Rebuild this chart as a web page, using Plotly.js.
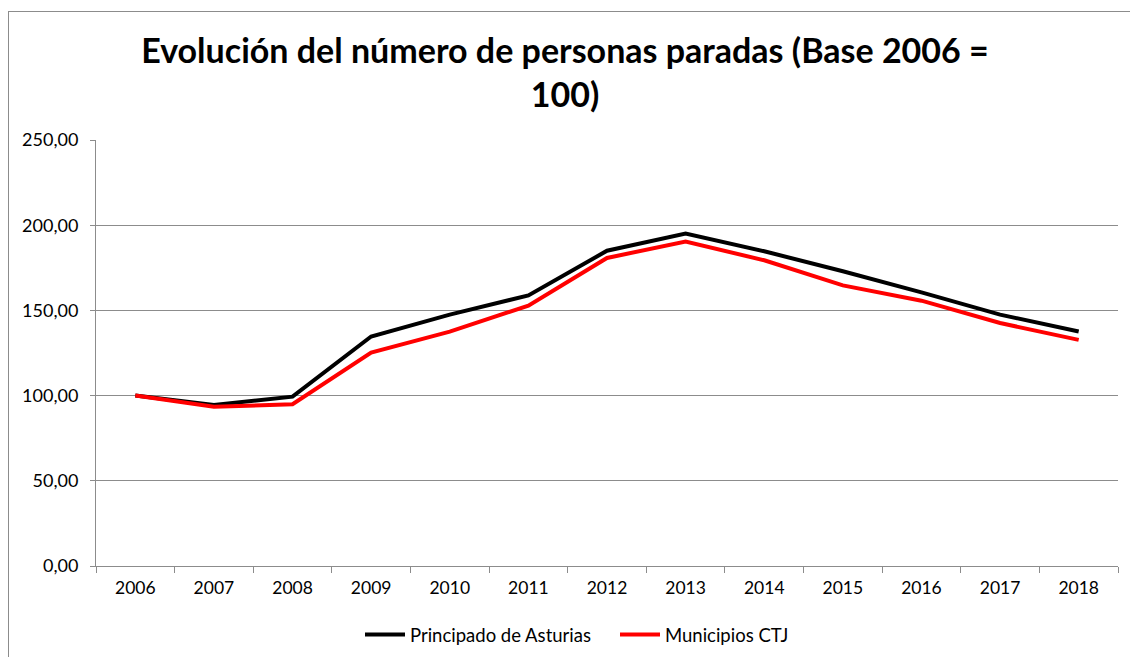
<!DOCTYPE html>
<html>
<head>
<meta charset="utf-8">
<script src="https://cdn.plot.ly/plotly-3.0.1.min.js"></script>
<style>
html,body{margin:0;padding:0;background:#fff;}
#wrap{position:relative;width:1130px;height:657px;overflow:hidden;}
#chart{width:1130px;height:657px;}
#frame{position:absolute;left:8px;top:11px;width:1200px;height:700px;border-top:1.5px solid #8c8c8c;border-left:1.5px solid #8c8c8c;pointer-events:none;}
</style>
</head>
<body>
<div id="wrap"><div id="chart"></div><div id="frame"></div></div>
<script>
const years = ['2006','2007','2008','2009','2010','2011','2012','2013','2014','2015','2016','2017','2018'];
const asturias = [100.00, 94.5, 99.4, 134.7, 147.5, 158.8, 185.0, 195.1, 184.7, 173.0, 160.6, 147.5, 137.6];
const ctj = [100.00, 93.5, 94.9, 125.3, 137.5, 152.8, 180.8, 190.4, 179.4, 164.7, 155.7, 142.6, 132.7];
const yTicks = [0, 50, 100, 150, 200, 250];

const font = 'Lato, "Open Sans", "DejaVu Sans", sans-serif';
const traces = [
  {x: years, y: asturias, name: 'Principado de Asturias', type: 'scatter', mode: 'lines',
   line: {color: '#000000', width: 4}},
  {x: years, y: ctj, name: 'Municipios CTJ', type: 'scatter', mode: 'lines',
   line: {color: '#ff0000', width: 4}}
];
const layout = {
  width: 1130, height: 657,
  margin: {l: 96, r: 12, t: 140, b: 91},
  paper_bgcolor: '#ffffff', plot_bgcolor: '#ffffff',
  separators: ', ',
  font: {family: font, size: 18, color: '#000000'},
  title: {text: '<b>Evolución del número de personas paradas (Base 2006 =<br>100)</b>',
          font: {family: font, size: 34, color: '#000000'},
          x: 0.5, xanchor: 'center', xref: 'container', y: 1 - 63/657, yanchor: 'middle', yref: 'container',
          automargin: false},
  xaxis: {type: 'category', range: [-0.5, 12.5], tickson: 'boundaries', ticks: 'outside', ticklen: 6, tickcolor: '#8c8c8c',
          showline: true, linecolor: '#8c8c8c', linewidth: 1, showgrid: false, zeroline: false,
          tickfont: {family: font, size: 17.5, color: '#000'}, ticklabelstandoff: 6, automargin: false},
  yaxis: {range: [0, 250], tickvals: yTicks, tickformat: '.2f', ticks: 'outside', ticklen: 5,
          tickcolor: '#8c8c8c', showline: true, linecolor: '#8c8c8c', linewidth: 1,
          showgrid: true, gridcolor: '#8c8c8c', gridwidth: 1, zeroline: false,
          tickfont: {family: font, size: 18, color: '#000'}, ticklabelstandoff: 8, automargin: false},
  showlegend: true,
  legend: {orientation: 'h', x: 360/1130, xanchor: 'left', xref: 'container',
           y: 1 - 635/657, yanchor: 'middle', yref: 'container',
           entrywidth: 200, entrywidthmode: 'pixels',
           font: {family: font, size: 18.5, color: '#000'}, itemwidth: 40, bgcolor: 'rgba(0,0,0,0)'}
};
Plotly.newPlot('chart', traces, layout, {displayModeBar: false, staticPlot: true});
</script>
</body>
</html>
